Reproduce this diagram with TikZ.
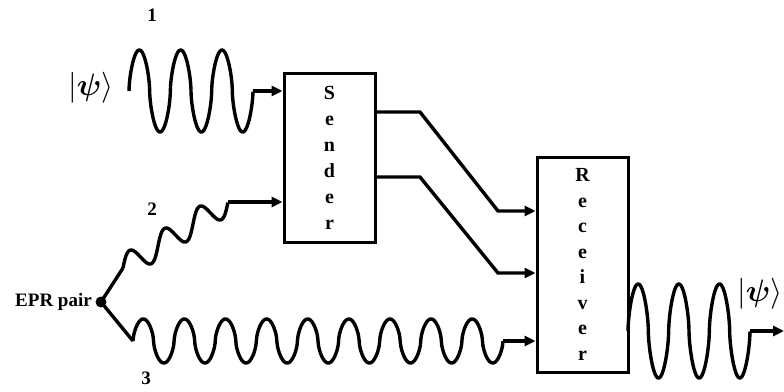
\documentclass[tikz,border=0pt]{standalone}
\usepackage{fix-cm}
\usepackage{fontspec}
\setmainfont{Liberation Serif}
\usepackage{bm}
\usetikzlibrary{arrows.meta,positioning}

\tikzset{
  block/.style={draw, line width=3pt, minimum width=91pt, align=center,
                font=\fontsize{20}{26}\selectfont\bfseries},
  wave/.style={line width=3.4pt, line join=round},
  feed/.style={line width=3.4pt, -{Triangle[length=11pt,width=10pt]}},
  num/.style={font=\fontsize{19}{22}\selectfont\bfseries},
  ket/.style={font=\fontsize{31}{34}\selectfont},
  declare function={bump(\t)=sin(\t)/pow(abs(sin(\t))+0.001,0.4);},
}

\begin{document}
\begin{tikzpicture}[x=1pt, y=-1pt]
  \useasboundingbox (0,0) rectangle (784,391);

  % Sender and receiver boxes
  \node[block, minimum height=169pt] (sender) at (329.5,157.5) {S\\e\\n\\d\\e\\r};
  \node[block, minimum height=215pt, font=\fontsize{20}{25.5}\selectfont\bfseries]
    (receiver) at (582.5,264.5) {R\\e\\c\\e\\i\\v\\e\\r};

  % Straight photon waves: start x / end x / centre y / amplitude / periods / end name
  \foreach \xa/\xb/\cy/\amp/\np/\nm in {
      129/253/91/41/3/w1,
      133/503/341/22/9/w3,
      628/750/331/47/3/w4}{
    \draw[wave] plot[domain=\xa:\xb, samples=700]
      (\x, {\cy-\amp*bump(360*\np*((\x-\xa)/(\xb-\xa)))});
    \coordinate (\nm) at (\xb,\cy);
  }

  % Tilted wave of photon 2
  \draw[wave] plot[domain=0:1, samples=150]
    ({123+105*\x-2.4*sin(1080*\x)}, {268-66*\x-12*sin(1080*\x)});
  \coordinate (w2) at (228,202);

  % EPR source
  \node[circle, fill, inner sep=0pt, minimum size=11pt] (epr) at (101,302) {};
  \node[num, left=0pt of epr] (eprlbl) {EPR pair};
  \coordinate (s2) at (123,268);
  \coordinate (s3) at (133,341);
  \draw[wave] (s2) -- (epr.center) -- (s3);

  % Inputs and output
  \draw[feed] (w1) -- (w1 -| sender.west);
  \draw[feed] (w2) -- (w2 -| sender.west);
  \draw[feed] (w3) -- (w3 -| receiver.west);
  \coordinate (out) at (784,331);
  \draw[feed] (w4) -- (out);

  % Classical channels sender -> receiver
  \draw[feed] (sender.east |- 0,112) -- (420,112) -- (498,211) -- (receiver.west |- 0,211);
  \draw[feed] (sender.east |- 0,177) -- (420,177) -- (498,273) -- (receiver.west |- 0,273);

  % Labels
  \node[num] (n1) at (152,15) {1};
  \node[num] (n2) at (152,209) {2};
  \node[num] (n3) at (146,378) {3};
  \node[ket] (kin) at (91,88) {$|\bm{\psi}\rangle$};
  \node[ket] (kout) at (760,294) {$|\bm{\psi}\rangle$};
\end{tikzpicture}
\end{document}
